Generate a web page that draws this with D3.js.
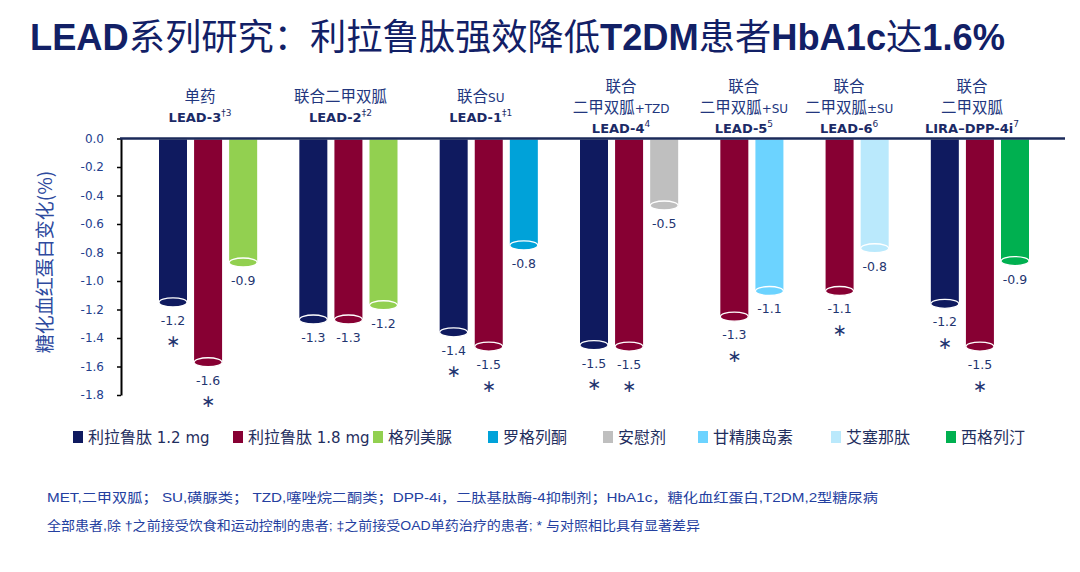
<!DOCTYPE html>
<html><head><meta charset="utf-8">
<script src="https://cdn.jsdelivr.net/npm/d3@7"></script>
<style>
html,body{margin:0;padding:0;background:#fff;}
svg{display:block;}
</style></head>
<body>
<div id="chart"></div>
<script>
// ---------------- data ----------------
const groupNames = ["LEAD-3", "LEAD-2", "LEAD-1", "LEAD-4", "LEAD-5", "LEAD-6", "LIRA\u2013DPP-4i"];
const groupSup = ["\u20203", "\u20212", "\u20211", "4", "5", "6", "7"];
const groupDesc = [["单药"], ["联合二甲双胍"], ["联合SU"], ["联合", "二甲双胍+TZD"], ["联合", "二甲双胍+SU"], ["联合", "二甲双胍±SU"], ["联合", "二甲双胍"]];
const seriesNames = ["利拉鲁肽 1.2 mg", "利拉鲁肽 1.8 mg", "格列美脲", "罗格列酮", "安慰剂", "甘精胰岛素", "艾塞那肽", "西格列汀"];
const seriesColors = ["#0F1A5F", "#870033", "#92D050", "#00A2D9", "#BFBFBF", "#6CD3FF", "#BAE9FC", "#00B050"];
const barGroup =  [0, 0, 0, 1, 1, 1, 2, 2, 2, 3, 3, 3, 4, 4, 5, 5, 6, 6, 6];
const barSeries = [0, 1, 2, 0, 1, 2, 0, 1, 3, 0, 1, 4, 1, 5, 1, 6, 0, 1, 7];
const barValues = [-1.15, -1.57, -0.87, -1.27, -1.27, -1.17, -1.36, -1.46, -0.75, -1.45, -1.46, -0.47, -1.25, -1.07, -1.07, -0.77, -1.16, -1.46, -0.86];
const barLabels = ["-1.2", "-1.6", "-0.9", "-1.3", "-1.3", "-1.2", "-1.4", "-1.5", "-0.8", "-1.5", "-1.5", "-0.5", "-1.3", "-1.1", "-1.1", "-0.8", "-1.2", "-1.5", "-0.9"];
const barSignificant = [1, 1, 0, 0, 0, 0, 1, 1, 0, 1, 1, 0, 1, 0, 1, 0, 1, 1, 0];
const yTicks = [0, -0.2, -0.4, -0.6, -0.8, -1.0, -1.2, -1.4, -1.6, -1.8];
const yTitle = "糖化血红蛋白变化(%)";
const titleParts = [["LEAD", 1], ["系列研究：利拉鲁肽强效降低", 0], ["T2DM", 1], ["患者", 0], ["HbA1c", 1], ["达", 0], ["1.6%", 1]];
const footnotes = [
  "MET,二甲双胍；  SU,磺脲类；  TZD,噻唑烷二酮类；DPP-4i，二肽基肽酶-4抑制剂；HbA1c，糖化血红蛋白,T2DM,2型糖尿病",
  "全部患者,除 †之前接受饮食和运动控制的患者; ‡之前接受OAD单药治疗的患者; * 与对照相比具有显著差异"
];

// ---------------- layout ----------------
const W = 1080, H = 572;
const svg = d3.select("#chart").append("svg").attr("width", W).attr("height", H);
const txt = "#24408E";

// slot layout: bars in a group are adjacent, one empty slot between groups
const barSlot = [];
let s = 0;
barValues.forEach((v, i) => {
  if (i > 0 && barGroup[i] !== barGroup[i - 1]) s++;
  barSlot.push(s); s++;
});
const x = d3.scaleLinear().domain([0, d3.max(barSlot)]).range([159, 1001]);
const bw = 28;
const y = d3.scaleLinear().domain([0, -1.8]).range([138.5, 395]);

// title
const title = svg.append("text").attr("x", 30).attr("y", 50)
  .attr("textLength", 975).attr("lengthAdjust", "spacingAndGlyphs")
  .attr("fill", "#122066").style("font-size", "36px");
titleParts.forEach(([t, b]) => {
  title.append("tspan").text(t)
    .style("font-family", b ? "'Liberation Sans', Arial, sans-serif" : "'Noto Sans CJK SC', sans-serif")
    .style("font-weight", b ? "700" : "400");
});

// y axis title
svg.append("text").attr("transform", "translate(43,262) rotate(-90)")
  .attr("text-anchor", "middle").attr("dominant-baseline", "central")
  .style("font-family", "'Noto Sans CJK SC', sans-serif").style("font-size", "19px")
  .attr("fill", "#2E4A9E").text(yTitle);

// y axis
const yAxis = svg.append("g").attr("transform", "translate(121,0)")
  .call(d3.axisLeft(y).tickValues(yTicks).tickSize(4).tickSizeOuter(0).tickPadding(13)
    .tickFormat(d => (Math.abs(d) < 1e-9 ? "0.0" : d.toFixed(1))));
yAxis.select(".domain").attr("stroke", "#000").attr("stroke-width", 2);
yAxis.selectAll(".tick line").attr("stroke", "#000").attr("stroke-width", 1.5);
yAxis.selectAll(".tick text").attr("fill", txt)
  .style("font-family", "'DejaVu Sans', sans-serif").style("font-size", "12px");

// bars
const bars = svg.append("g");
barValues.forEach((v, i) => {
  const cx = x(barSlot[i]) + bw / 2;
  const col = seriesColors[barSeries[i]];
  const ye = y(v);
  bars.append("rect").attr("x", x(barSlot[i])).attr("y", y(0) + 1)
    .attr("width", bw).attr("height", ye - y(0) - 1).attr("fill", col);
  bars.append("ellipse").attr("cx", cx).attr("cy", ye).attr("rx", bw / 2).attr("ry", 4.5)
    .attr("fill", col).attr("stroke", "#fff").attr("stroke-width", 1.3);
  bars.append("text").attr("x", cx).attr("y", ye + 18)
    .attr("text-anchor", "middle").attr("dominant-baseline", "central")
    .style("font-family", "'DejaVu Sans', sans-serif").style("font-size", "12.5px")
    .attr("fill", "#1F3570").text(barLabels[i]);
  if (barSignificant[i]) {
    bars.append("text").attr("x", cx).attr("y", ye + 39)
      .attr("text-anchor", "middle").attr("dominant-baseline", "central")
      .style("font-family", "'DejaVu Sans', sans-serif").style("font-size", "17px")
      .attr("fill", "#1F3570").text("\u2217");
  }
});

// top line (zero line)
svg.append("line").attr("x1", 120).attr("x2", 1065).attr("y1", y(0)).attr("y2", y(0))
  .attr("stroke", "#1B2A5A").attr("stroke-width", 2.5);

// group headers
const hdr = svg.append("g");
function addMixed(g, str, big, small, fam) {
  const parts = str.match(/[A-Za-z+±]+|[^A-Za-z+±]+/g);
  parts.forEach(p => {
    const latin = /^[A-Za-z+±]+$/.test(p);
    g.append("tspan").text(p).style("font-size", latin ? small : big)
      .style("font-family", latin ? "'DejaVu Sans', sans-serif" : fam);
  });
}
groupNames.forEach((gname, gi) => {
  const idx = barGroup.map((g, i) => g === gi ? i : -1).filter(i => i >= 0);
  const left = x(barSlot[idx[0]]), right = x(barSlot[idx[idx.length - 1]]) + bw;
  const cx = (left + right) / 2 - 8;
  const desc = groupDesc[gi];
  const leadY = desc.length === 1 ? 117 : 128;
  desc.forEach((d, li) => {
    const t = hdr.append("text").attr("x", cx).attr("y", leadY - (desc.length - li) * 21 + 5.5)
      .attr("text-anchor", "middle")
      .attr("fill", "#22367E");
    addMixed(t, d, "15.5px", "12px", "'Noto Sans CJK SC', sans-serif");
  });
  const t = hdr.append("text").attr("x", cx).attr("y", leadY + 5)
    .attr("text-anchor", "middle")
    .attr("fill", "#1B2A66").style("font-family", "'DejaVu Sans', sans-serif")
    .style("font-weight", "700").style("font-size", "13px");
  t.append("tspan").text(gname);
  t.append("tspan").text(groupSup[gi]).attr("dy", -6).style("font-size", "9px").style("font-weight", "400");
});

// legend
const legendX = [73, 233, 373, 488, 603, 698, 831, 946];
const leg = svg.append("g");
seriesNames.forEach((n, i) => {
  leg.append("rect").attr("x", legendX[i]).attr("y", 431).attr("width", 10).attr("height", 12)
    .attr("fill", seriesColors[i]);
  const t = leg.append("text").attr("x", legendX[i] + 15).attr("y", 443)
    .attr("fill", "#1F2E5E");
  const parts = n.match(/[\x00-\x7F]+|[^\x00-\x7F]+/g);
  parts.forEach(p => {
    const latin = /^[\x00-\x7F]+$/.test(p);
    t.append("tspan").text(p)
      .style("font-family", latin ? "'DejaVu Sans', sans-serif" : "'Noto Sans CJK SC', sans-serif")
      .style("font-size", latin ? "15px" : "16px");
  });
});

// footnotes
const fnLen = [831, 653];
footnotes.forEach((f, i) => {
  svg.append("text").attr("x", 47).attr("y", 502 + i * 28)
    .attr("textLength", fnLen[i]).attr("lengthAdjust", "spacingAndGlyphs")
    .attr("fill", "#2440A0").style("font-family", "'Liberation Sans', 'Noto Sans CJK SC', sans-serif")
    .style("font-size", "13px").text(f);
});
</script>
</body></html>
